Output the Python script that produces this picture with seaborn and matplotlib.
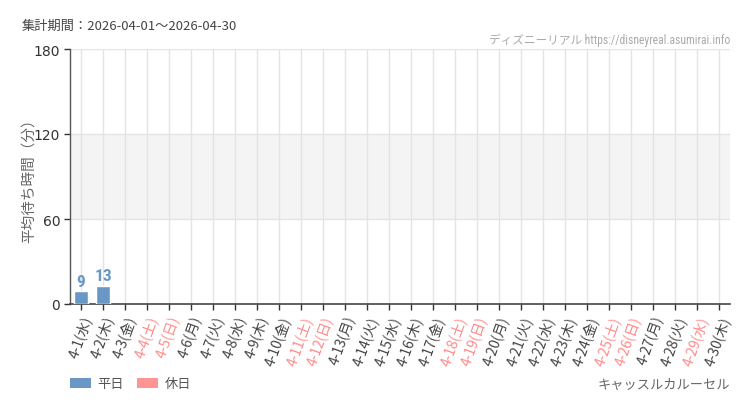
import matplotlib
matplotlib.use("Agg")
import matplotlib.pyplot as plt
import seaborn as sns
import pandas as pd
import numpy as np
from matplotlib.patches import Patch

days = [f"4-{d}" for d in range(1, 31)]
weekdays = ["水", "木", "金", "土", "日", "月", "火"] * 4 + ["水", "木"]
holidays = ["4-4", "4-5", "4-11", "4-12", "4-18", "4-19", "4-25", "4-26", "4-29"]
values = [9, 13] + [np.nan] * 28
y_ticks = [0, 60, 120, 180]

title_text = "集計期間：2026-04-01～2026-04-30"
source_text = "ディズニーリアル https://disneyreal.asumirai.info"
ride_name = "キャッスルカルーセル"
ylabel_text = "平均待ち時間（分）"
legend_labels = ["平日", "休日"]

BLUE = "#6a98c6"
PINK = "#ff9494"
PINK_TXT = "#ff8a8a"
NARROW = ["Roboto Condensed", "Liberation Sans Narrow", "Roboto"]

sns.set_theme(style="white")
plt.rcParams["font.family"] = ["Noto Sans CJK JP", "DejaVu Sans"]

labels = [f"{d}({w})" for d, w in zip(days, weekdays)]
kind = ["休日" if d in holidays else "平日" for d in days]
df = pd.DataFrame({"label": labels, "value": values, "kind": kind})

fig = plt.figure(figsize=(7.5, 4.1), dpi=100)
ax = fig.add_axes([70 / 750, 1 - 305 / 410, 660 / 750, 255 / 410])

ax.axhspan(60, 120, color="#f4f4f4", zorder=0, lw=0)
sns.barplot(data=df, x="label", y="value", hue="kind", hue_order=["平日", "休日"],
            palette=[BLUE, PINK], dodge=False, width=0.68, ax=ax, legend=False,
            zorder=3, saturation=1)

ax.set_ylim(0, 180)
ax.set_xlim(-0.5, len(days) - 0.5)
ax.set_yticks(y_ticks)
ax.set_yticklabels([str(t) for t in y_ticks], fontsize=10, color="#333333",
                   family=["DejaVu Sans"])
ax.set_xticks(range(len(days)))
ax.set_xticklabels(labels, rotation=70, ha="right", rotation_mode="anchor", fontsize=10)
for tl, d in zip(ax.get_xticklabels(), days):
    tl.set_color(PINK_TXT if d in holidays else "#444444")

ax.tick_params(axis="x", length=4, width=1, color="#333333", pad=3, direction="out", bottom=True)
ax.tick_params(axis="y", length=4, width=1, color="#333333", pad=3, left=True)

for i in range(len(days)):
    ax.axvline(i, color="#e4e4e4", lw=1, zorder=1)
for t in [60, 120, 180]:
    ax.axhline(t, color="#e4e4e4", lw=1, zorder=1)

for s in ["top", "right"]:
    ax.spines[s].set_visible(False)
ax.spines["left"].set_color("#555555")
ax.spines["bottom"].set_color("#444444")
ax.spines["left"].set_linewidth(1)
ax.spines["bottom"].set_linewidth(1.2)

for i, v in enumerate(values):
    if not np.isnan(v):
        ax.text(i, v + 1.5, str(int(v)), ha="center", va="bottom", color=BLUE,
                fontsize=12.5, fontweight="bold", family=NARROW, zorder=4)

ax.set_xlabel("")
ax.set_ylabel(ylabel_text, fontsize=10.5, color="#666666")
ax.yaxis.set_label_coords(-0.052, 0.5)

fig.text(22 / 750, 1 - 26 / 410, title_text, fontsize=9.5, color="#444444", va="center", ha="left")
fig.text(730 / 750, 1 - 40 / 410, source_text, fontsize=8.4, color="#aaaaaa", va="center", ha="right",
         family=NARROW + ["Noto Sans CJK JP"])
fig.text(730 / 750, 1 - 385 / 410, ride_name, fontsize=9.5, color="#666666", va="center", ha="right")

handles = [Patch(facecolor=BLUE, edgecolor="none"), Patch(facecolor=PINK, edgecolor="none")]
fig.legend(handles, legend_labels, loc="center left", bbox_to_anchor=(58 / 750, 1 - 385 / 410),
           ncol=2, frameon=False, fontsize=9.5, handlelength=1.6, handleheight=0.75,
           columnspacing=1.0, handletextpad=0.5, labelcolor="#555555")

fig.savefig("out.png", dpi=100)
